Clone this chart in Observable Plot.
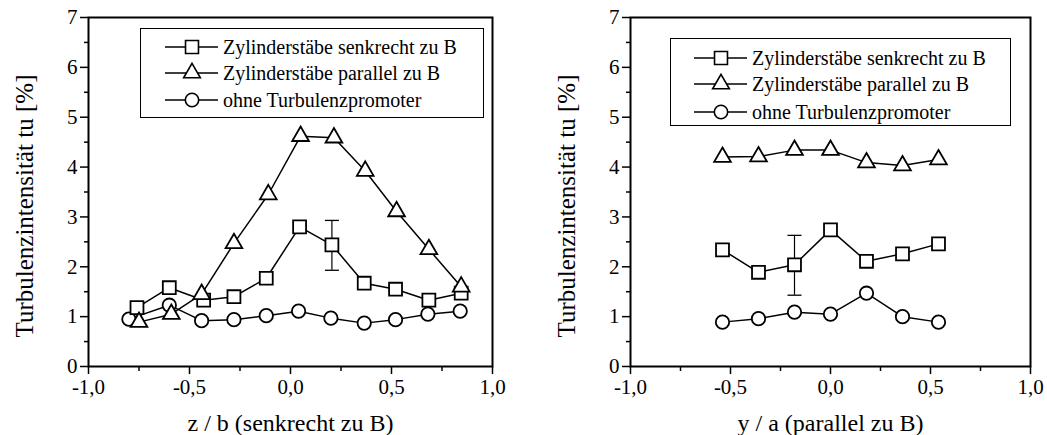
<!DOCTYPE html>
<html>
<head>
<meta charset="utf-8">
<script src="https://cdn.jsdelivr.net/npm/d3@7"></script>
<script src="https://cdn.jsdelivr.net/npm/@observablehq/plot@0.6"></script>
<style>
  html, body { margin: 0; padding: 0; background: #fff; }
  #wrap { position: relative; width: 1047px; height: 435px; font-family: "Liberation Serif", "Times New Roman", serif; }
  #wrap svg, #wrap svg text { font-family: "Liberation Serif", "Times New Roman", serif !important; }
  .panel { position: absolute; top: 0; }
  .legend { position: absolute; border: 1.5px solid #000; background: #fff; box-sizing: border-box; }
  .row { position: absolute; left: 0; height: 26px; display: flex; align-items: center; font-size: 20px; white-space: nowrap; color: #000; }
  .row svg { display: block; }
</style>
</head>
<body>
<div id="wrap">
  <div id="left" class="panel" style="left:0px"></div>
  <div id="right" class="panel" style="left:524px"></div>
</div>
<script>
// ---------- data ----------
const seriesNames = ["Zylinderstäbe senkrecht zu B", "Zylinderstäbe parallel zu B", "ohne Turbulenzpromoter"];
const seriesSymbols = ["square", "triangle", "circle"];

// left panel: z / b (senkrecht zu B)
const leftSqX   = [-0.76, -0.60, -0.43, -0.28, -0.12, 0.045, 0.205, 0.365, 0.52, 0.685, 0.845];
const leftSqY   = [1.18, 1.58, 1.33, 1.40, 1.77, 2.80, 2.44, 1.67, 1.55, 1.33, 1.47];
const leftTriX  = [-0.75, -0.59, -0.44, -0.28, -0.11, 0.05, 0.215, 0.37, 0.525, 0.685, 0.845];
const leftTriY  = [0.89, 1.05, 1.45, 2.47, 3.45, 4.62, 4.59, 3.92, 3.11, 2.35, 1.60];
const leftCirX  = [-0.80, -0.60, -0.44, -0.28, -0.12, 0.04, 0.20, 0.365, 0.52, 0.68, 0.84];
const leftCirY  = [0.95, 1.23, 0.92, 0.94, 1.02, 1.11, 0.97, 0.87, 0.94, 1.05, 1.11];
const leftErr   = [{x: 0.205, lo: 1.93, hi: 2.93}];

// right panel: y / a (parallel zu B)
const rightX    = [-0.54, -0.36, -0.18, 0.0, 0.18, 0.36, 0.54];
const rightSqY  = [2.34, 1.89, 2.04, 2.74, 2.11, 2.26, 2.46];
const rightTriY = [4.20, 4.21, 4.34, 4.34, 4.09, 4.03, 4.15];
const rightCirY = [0.89, 0.96, 1.09, 1.05, 1.47, 1.00, 0.89];
const rightErr  = [{x: -0.18, lo: 1.43, hi: 2.63}];

const xMajor = [-1, -0.5, 0, 0.5, 1];
const xMinor = [-0.75, -0.25, 0.25, 0.75];
const yMajor = [0, 1, 2, 3, 4, 5, 6, 7];
const yMinor = [0.5, 1.5, 2.5, 3.5, 4.5, 5.5, 6.5];
const yTitle = "Turbulenzintensität tu [%]";
const leftXTitle = "z / b (senkrecht zu B)";
const rightXTitle = "y / a (parallel zu B)";

// ---------- helpers ----------
const zip = (xs, ys) => xs.map((x, i) => ({x, y: ys[i]}));
const fmtX = d => d3.format(".1f")(d).replace("−", "-").replace(".", ",");
const fmtY = d => String(d);
const capSymbol = {draw(ctx, size) { const w = Math.sqrt(size / Math.PI); ctx.moveTo(-w, 0); ctx.lineTo(w, 0); }};
const symR = {square: 7.3, triangle: 6.2, circle: 6.7};

function panel({width, marginLeft, marginRight, series, err, xTitle}) {
  const marks = [
    Plot.axisY(yMinor, {tickSize: 4, strokeWidth: 1.5, text: null, label: null}),
    Plot.axisX(xMinor, {tickSize: 5, strokeWidth: 1.5, text: null, label: null}),
    Plot.axisY(yMajor, {tickSize: 8, tickPadding: 3, strokeWidth: 1.5, fontSize: 21, fill: "black", tickFormat: fmtY, label: null}),
    Plot.axisX(xMajor, {tickSize: 8, tickPadding: 5, strokeWidth: 1.5, fontSize: 21, fill: "black", tickFormat: fmtX, label: null}),
    Plot.frame({strokeWidth: 2}),
    Plot.text([yTitle], {frameAnchor: "left", textAnchor: "middle", lineAnchor: "middle", rotate: -90, dx: -64, dy: 14, fontSize: 25, fill: "black", text: d => d}),
    Plot.text([xTitle], {frameAnchor: "bottom", textAnchor: "middle", lineAnchor: "middle", dy: 57, fontSize: 24, fill: "black", text: d => d}),
    Plot.ruleX(err, {x: "x", y1: "lo", y2: "hi", strokeWidth: 1.2}),
    Plot.dot(err, {x: "x", y: "lo", symbol: capSymbol, r: 7, stroke: "black", strokeWidth: 1.3}),
    Plot.dot(err, {x: "x", y: "hi", symbol: capSymbol, r: 7, stroke: "black", strokeWidth: 1.3})
  ];
  for (const s of series) marks.push(Plot.line(s.data, {x: "x", y: "y", stroke: "black", strokeWidth: 1.5}));
  for (const s of series) marks.push(Plot.dot(s.data, {x: "x", y: "y", symbol: s.symbol, r: symR[s.symbol], fill: "white", stroke: "black", strokeWidth: 1.8}));
  return Plot.plot({
    width, height: 435,
    marginLeft, marginRight, marginTop: 17, marginBottom: 69,
    x: {domain: [-1, 1], label: null},
    y: {domain: [0, 7], label: null},
    style: {fontFamily: "Liberation Serif", fontSize: "21px", color: "black", background: "white", overflow: "visible"},
    marks
  });
}

document.getElementById("left").append(panel({
  width: 523, marginLeft: 88, marginRight: 31, xTitle: leftXTitle, err: leftErr,
  series: [
    {symbol: "circle", data: zip(leftCirX, leftCirY)},
    {symbol: "square", data: zip(leftSqX, leftSqY)},
    {symbol: "triangle", data: zip(leftTriX, leftTriY)}
  ]
}));
document.getElementById("right").append(panel({
  width: 523, marginLeft: 106, marginRight: 17, xTitle: rightXTitle, err: rightErr,
  series: [
    {symbol: "circle", data: zip(rightX, rightCirY)},
    {symbol: "square", data: zip(rightX, rightSqY)},
    {symbol: "triangle", data: zip(rightX, rightTriY)}
  ]
}));

// ---------- legends ----------
function legend(box, rowTops) {
  const div = document.createElement("div");
  div.className = "legend";
  Object.assign(div.style, {left: box.x + "px", top: box.y + "px", width: box.w + "px", height: box.h + "px"});
  seriesNames.forEach((name, i) => {
    const row = document.createElement("div");
    row.className = "row";
    row.style.top = rowTops[i] + "px";
    row.style.left = box.pad + "px";
    const sym = d3.create("svg").attr("width", 58).attr("height", 26);
    sym.append("line").attr("x1", 0).attr("x2", 53).attr("y1", 13).attr("y2", 13).attr("stroke", "black").attr("stroke-width", 1.3);
    const r = symR[seriesSymbols[i]];
    const type = {square: d3.symbolSquare, triangle: d3.symbolTriangle, circle: d3.symbolCircle}[seriesSymbols[i]];
    sym.append("path").attr("transform", "translate(27,13)").attr("d", d3.symbol(type, r * r * Math.PI)())
      .attr("fill", "white").attr("stroke", "black").attr("stroke-width", 1.6);
    row.append(sym.node());
    const t = document.createElement("span");
    t.textContent = name;
    row.append(t);
    div.append(row);
  });
  document.getElementById("wrap").append(div);
}
legend({x: 140, y: 28, w: 344, h: 90, pad: 24}, [5, 31, 58]);
legend({x: 670, y: 38, w: 341, h: 88, pad: 23}, [6, 32, 60]);
</script>
</body>
</html>
